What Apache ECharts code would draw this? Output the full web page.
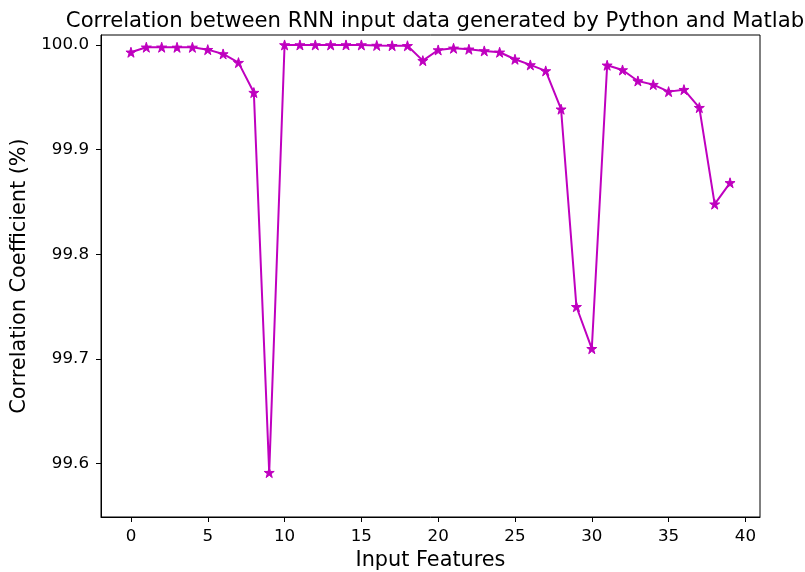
<!DOCTYPE html>
<html>
<head>
<meta charset="utf-8">
<script src="https://cdn.jsdelivr.net/npm/echarts@6/dist/echarts.min.js"></script>
<style>html,body{margin:0;padding:0;background:#fff}#c{width:805px;height:572px}</style>
</head>
<body>
<div id="c"></div>
<script>
const features = [0,1,2,3,4,5,6,7,8,9,10,11,12,13,14,15,16,17,18,19,20,21,22,23,24,25,26,27,28,29,30,31,32,33,34,35,36,37,38,39];
const correlation = [99.9930,99.9978,99.9978,99.9977,99.9977,99.9955,99.9914,99.9831,99.9545,99.5914,
  100.0,100.0,100.0,100.0,100.0,100.0,99.9995,99.9993,99.9992,99.9850,
  99.9952,99.9968,99.9959,99.9943,99.9930,99.9863,99.9809,99.9752,99.9386,99.7499,
  99.7098,99.9806,99.9761,99.9656,99.9621,99.9554,99.9573,99.9401,99.8479,99.8683];
const xTicks = [0,5,10,15,20,25,30,35,40];
const yTicks = [99.6,99.7,99.8,99.9,100.0];

const FONT = 'DejaVu Sans';
const star = 'path://M0,-10 L2.245,-3.09 L9.51,-3.09 L3.633,1.18 L5.878,8.09 L0,3.82 L-5.878,8.09 L-3.633,1.18 L-9.51,-3.09 L-2.245,-3.09 Z';
const chart = echarts.init(document.getElementById('c'), null, {renderer:'canvas'});
chart.setOption({
  animation:false,
  backgroundColor:'#fff',
  title:{text:'Correlation between RNN input data generated by Python and Matlab',
    left:430, top:6, textAlign:'center',
    textStyle:{fontFamily:FONT,fontSize:21.2,fontWeight:'normal',color:'#000'}},
  grid:{left:101,right:45,top:35,bottom:55,outerBoundsMode:'none',containLabel:false,show:true,borderColor:'#000',borderWidth:1,backgroundColor:'transparent'},
  xAxis:{type:'value',min:-1.95,max:40.95,
    name:'Input Features',nameLocation:'middle',nameGap:28,
    nameTextStyle:{fontFamily:FONT,fontSize:20.8,color:'#000'},
    axisLine:{show:true,onZero:false,lineStyle:{color:'#000',width:1}},
    axisTick:{show:true,length:5,customValues:xTicks,lineStyle:{color:'#000',width:1}},
    axisLabel:{customValues:xTicks,fontFamily:FONT,fontSize:16.7,color:'#000',margin:11,formatter:v=>String(v)},
    splitLine:{show:false}},
  yAxis:{type:'value',min:99.549,max:100.0095,
    name:'Correlation Coefficient (%)',nameLocation:'middle',nameGap:65,
    nameTextStyle:{fontFamily:FONT,fontSize:20.8,color:'#000'},
    axisLine:{show:true,onZero:false,lineStyle:{color:'#000',width:1}},
    axisTick:{show:true,length:5,customValues:yTicks,lineStyle:{color:'#000',width:1}},
    axisLabel:{customValues:yTicks,fontFamily:FONT,fontSize:16.7,color:'#000',margin:12,formatter:v=>v.toFixed(1)},
    splitLine:{show:false}},
  series:[{type:'line',data:features.map((f,i)=>[f,correlation[i]]),
    symbol:star,symbolSize:10,showAllSymbol:true,
    lineStyle:{color:'#bf00bf',width:2},
    itemStyle:{color:'#bf00bf',borderColor:'#bf00bf',borderWidth:1}}]
});
</script>
</body>
</html>
